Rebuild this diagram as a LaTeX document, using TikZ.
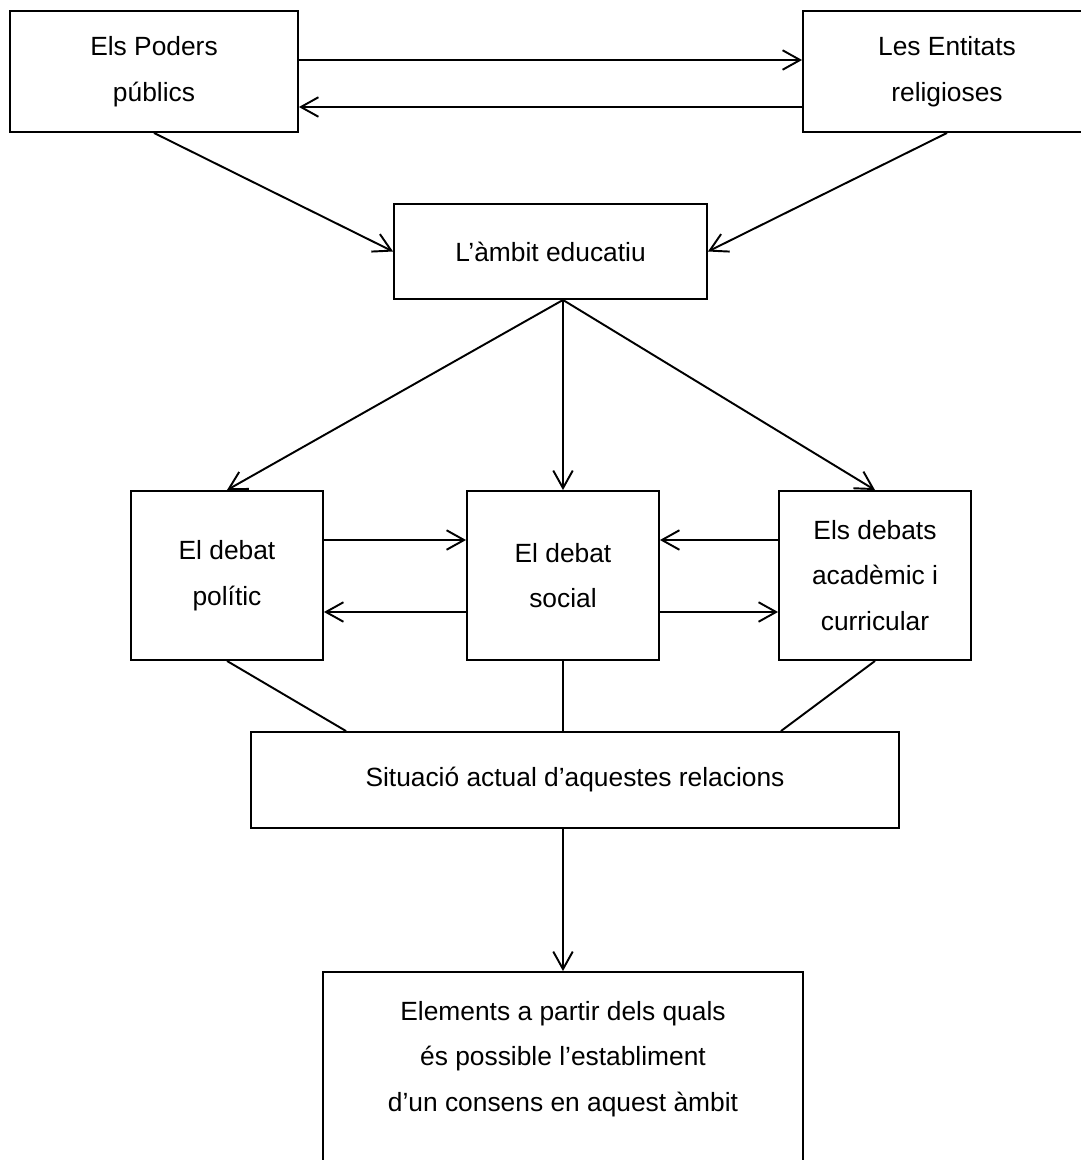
\documentclass[tikz,border=0pt]{standalone}
\usepackage{fontspec}
\setmainfont{Liberation Sans}
\usetikzlibrary{arrows.meta}

\begin{document}
\begin{tikzpicture}[x=0.02cm,y=-0.02cm,>={Straight Barb[length=3.5mm,width=3.9mm]},
  box/.style={draw,line width=1.1pt,align=center,inner sep=0pt,font=\fontsize{15}{26}\selectfont},
  link/.style={line width=1.1pt}]
  \useasboundingbox (0,0) rectangle (1080,1160);
  % boxes
  \node[box,minimum width=5.76cm,minimum height=2.42cm] (pod) at (154,71.5) {Els Poders\\públics};
  \node[box,minimum width=5.76cm,minimum height=2.42cm] (ent) at (947,71.5) {Les Entitats\\religioses};
  \node[box,minimum width=6.26cm,minimum height=1.9cm] (amb) at (550.5,251.5) {L’àmbit educatiu};
  \node[box,minimum width=3.84cm,minimum height=3.38cm] (pol) at (227,575.5) {El debat\\polític};
  \node[box,minimum width=3.84cm,minimum height=3.38cm] (soc) at (563,575.5) {El debat\\social};
  \node[box,minimum width=3.84cm,minimum height=3.38cm] (aca) at (875,575.5) {Els debats\\acadèmic i\\curricular};
  \node[box,minimum width=12.96cm,minimum height=1.92cm] (sit) at (575,780) {Situació actual d’aquestes relacions};
  \node[box,minimum width=9.6cm,minimum height=4.56cm] (ele) at (563,1086) {Elements a partir dels quals\\és possible l’establiment\\d’un consens en aquest àmbit\\\strut};
  % connectors
  \draw[link,->] ([yshift=0.23cm]pod.east) -- ([yshift=0.23cm]ent.west);
  \draw[link,->] ([yshift=-0.71cm]ent.west) -- ([yshift=-0.71cm]pod.east);
  \draw[link,->] (pod.south) -- (amb.west);
  \draw[link,->] (ent.south) -- (amb.east);
  \coordinate (fan) at ([xshift=0.25cm]amb.south);
  \foreach \t in {pol,soc,aca}
    \draw[link,->] (fan) -- (\t.north);
  \draw[link,->] ([yshift=0.71cm]pol.east) -- ([yshift=0.71cm]soc.west);
  \draw[link,->] ([yshift=-0.73cm]soc.west) -- ([yshift=-0.73cm]pol.east);
  \draw[link,->] ([yshift=0.71cm]aca.west) -- ([yshift=0.71cm]soc.east);
  \draw[link,->] ([yshift=-0.73cm]soc.east) -- ([yshift=-0.73cm]aca.west);
  \draw[link] (pol.south) -- ([xshift=-4.58cm]sit.north);
  \draw[link] (soc.south) -- (soc.south |- sit.north);
  \draw[link] (aca.south) -- ([xshift=4.12cm]sit.north);
  \draw[link,->] (ele.north |- sit.south) -- (ele.north);
\end{tikzpicture}
\end{document}
